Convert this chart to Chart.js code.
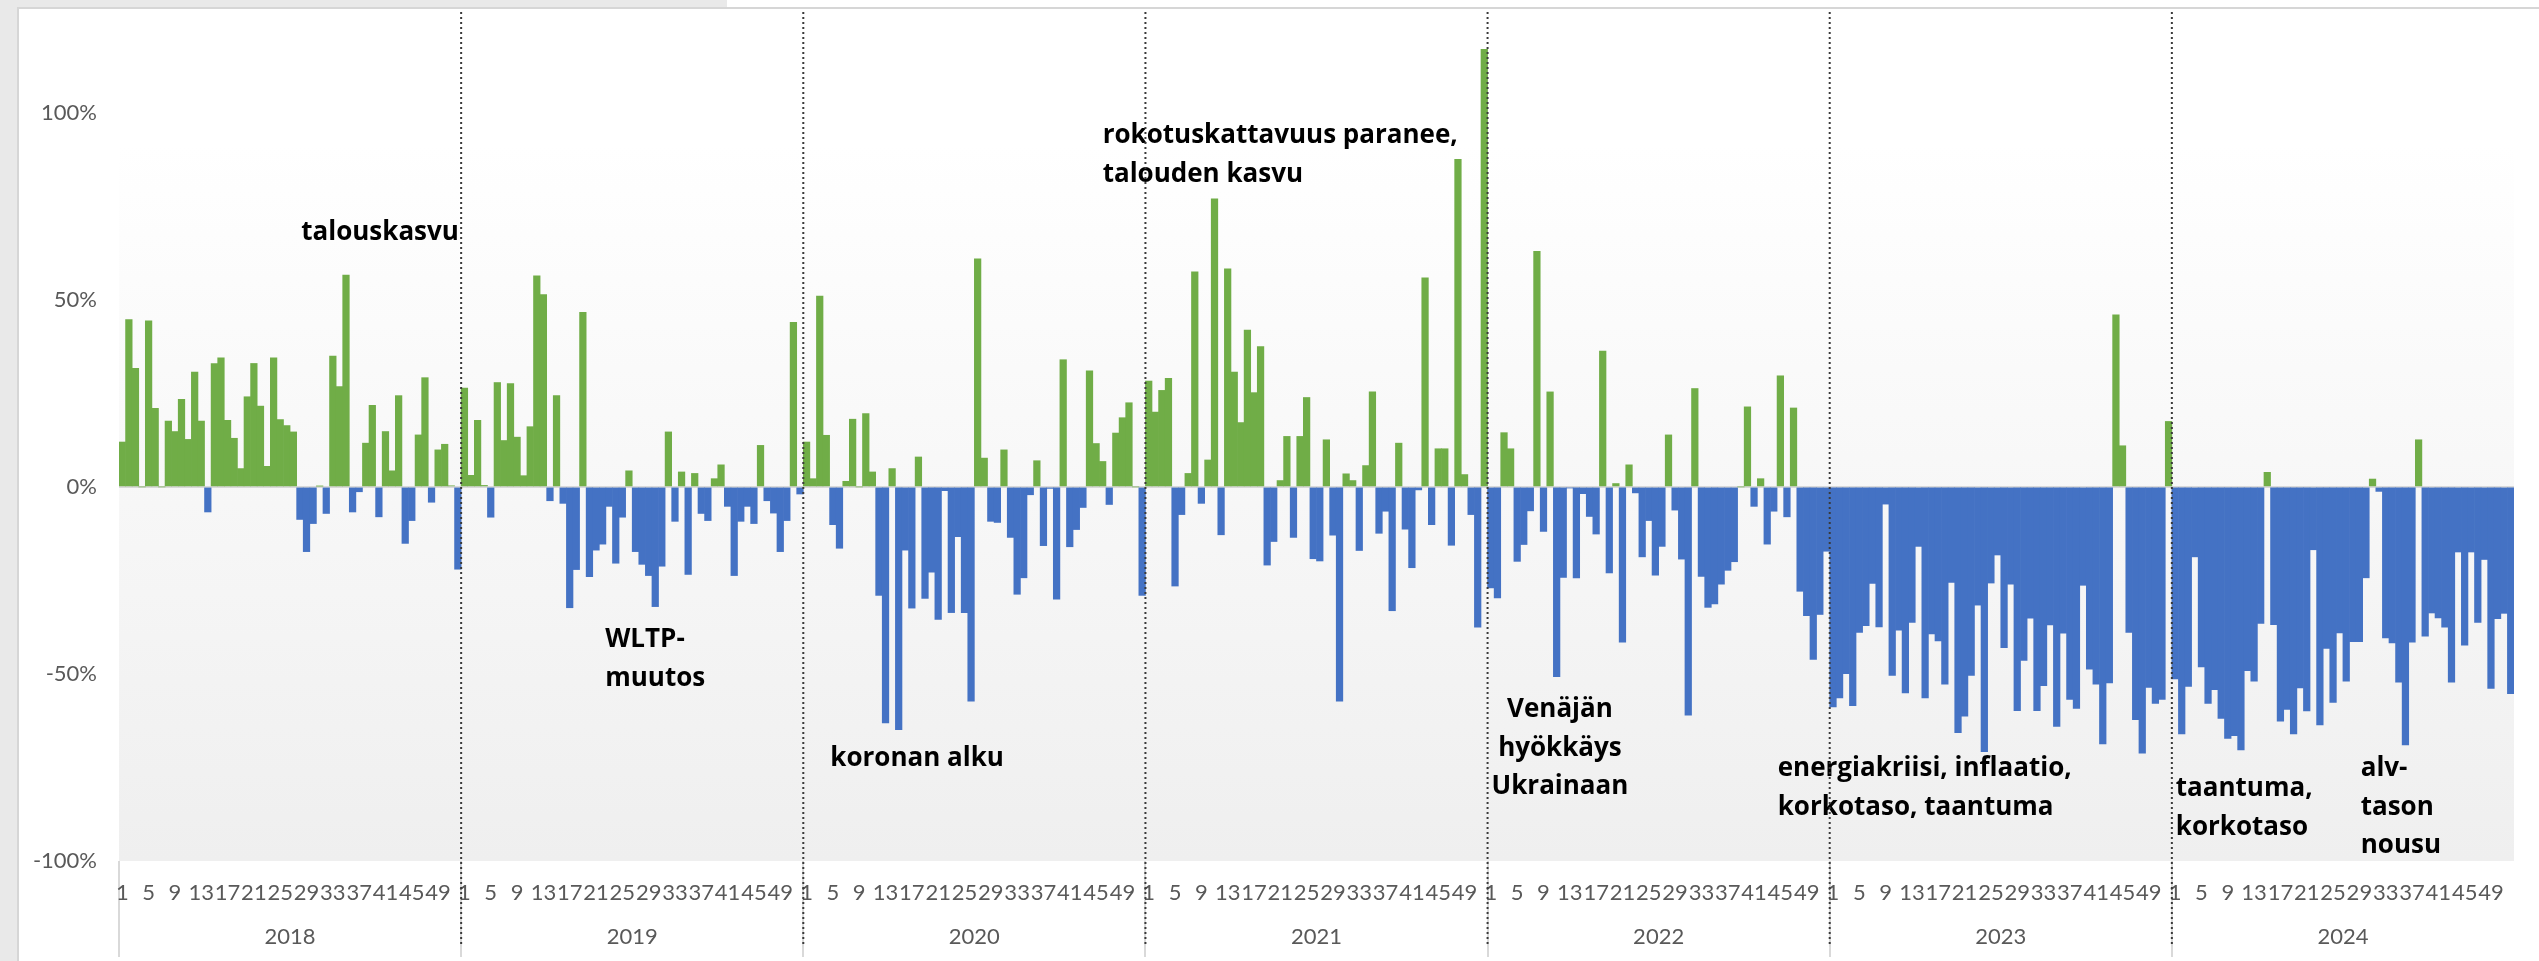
<!DOCTYPE html>
<html>
<head>
<meta charset="utf-8">
<script src="https://cdn.jsdelivr.net/npm/chart.js@4.4.1/dist/chart.umd.min.js"></script>
<style>
  html, body { margin: 0; padding: 0; background: #ffffff; width: 2539px; height: 961px; overflow: hidden; }
  #gl { position: absolute; left: 0; top: 0; width: 17px; height: 961px; background: #e9e9e9; }
  #gt { position: absolute; left: 0; top: 0; width: 727px; height: 7px; background: #e9e9e9; }
  #frame { position: absolute; left: 17px; top: 7px; width: 2522px; height: 954px; border-left: 2px solid #d6d6d6; border-top: 2px solid #d6d6d6; box-sizing: border-box; background: #fff; }
  #wrap { position: absolute; left: 0; top: 0; width: 2539px; height: 961px; }
</style>
</head>
<body>
<div id="gl"></div><div id="gt"></div><div id="frame"></div>
<div id="wrap"><canvas id="c" width="2539" height="961"></canvas></div>
<script>
// ---- data (weekly change, %) ----
const years = ['2018', '2019', '2020', '2021', '2022', '2023', '2024'];
const weeksPerYear = 52;
const tickWeeks = [1, 5, 9, 13, 17, 21, 25, 29, 33, 37, 41, 45, 49];

const y2018 = [12, 44.7, 31.7, 0, 44.4, 21, 0, 17.6, 14.8, 23.4, 12.7, 30.7, 17.6, -6.7, 33, 34.5, 17.8, 13, 4.9, 24.1, 33, 21.6, 5.5, 34.5, 18, 16.4, 14.7, -8.7, -17.3, -9.8, 0.2, -7.1, 35, 26.8, 56.6, -6.7, -1.3, 11.7, 21.8, -8, 14.8, 4.3, 24.4, -15.1, -9, 13.9, 29.2, -4.1, 9.9, 11.4, 0.3, -22];
const y2019 = [26.4, 3.1, 17.8, 0.4, -8.1, 27.9, 12.4, 27.6, 13.3, 3, 16.1, 56.4, 51.4, -3.7, 24.4, -4.4, -32.3, -22.1, 46.7, -24, -16.9, -15.3, -5.2, -20.4, -8.1, 4.3, -17.3, -20.7, -23.7, -32, -21.2, 14.7, -9.2, 4, -23.4, 3.6, -7.1, -9, 2.2, 5.9, -5.2, -23.7, -9.2, -5.2, -9.8, 11.1, -3.7, -7, -17.3, -9, 44, -1.9];
const y2020 = [12, 2.2, 51, 13.8, -10.1, -16.4, 1.5, 18.1, 0, 19.6, 4, -29, -63.1, 4.9, -64.9, -16.9, -32.4, 8, -29.8, -22.8, -35.4, -1, -33.6, -13.3, -33.6, -57.3, 61, 7.7, -9.2, -9.5, 9.9, -13.5, -28.7, -24.3, -2.1, 7, -15.7, -0.4, -30, 34, -16, -11.4, -5.5, 31, 11.6, 6.8, -4.7, 14.4, 18.5, 22.5, 0, -29];
const y2021 = [28.3, 20, 25.8, 29, -26.5, -7.4, 3.6, 57.5, -4.4, 7.2, 77, -12.8, 58.3, 30.7, 17.2, 41.9, 25.2, 37.5, -20.9, -14.6, 1.7, 13.5, -13.5, 13.5, 23.9, -19.2, -19.8, 12.6, -12.9, -57.3, 3.5, 1.7, -17, 5.7, 25.4, -12.4, -6.5, -33.1, 11.7, -11.3, -21.6, -0.8, 55.9, -10.1, 10.2, 10.2, -15.6, 87.6, 3.3, -7.4, -37.5, 117];
const y2022 = [-27, -29.7, 14.5, 10.2, -19.9, -15.4, -6.4, 63, -11.9, 25.4, -50.7, -24.2, -0.3, -24.3, -1.8, -7.9, -12.6, 36.3, -23, 0.9, -41.5, 5.9, -1.6, -18.7, -9, -23.6, -15.9, 13.9, -6.2, -19.3, -61, 26.3, -23.9, -32.2, -31.3, -26, -22.3, -20, 0, 21.4, -5.2, 2.2, -15.3, -6.5, 29.7, -8, 21.1, -27.9, -34.4, -46.1, -34.1, -17.2];
const y2023 = [-58.8, -56.4, -49.9, -58.5, -38.9, -37.1, -25.8, -37.4, -4.6, -50.4, -38.3, -55.1, -36.2, -15.9, -56.4, -39.3, -41.2, -52.7, -25.5, -65.7, -61.3, -50.4, -31.6, -70.8, -25.7, -18.2, -43, -26, -59.8, -46.4, -35.1, -59.8, -53.1, -36.9, -64, -39.1, -56.8, -59.2, -26.3, -48.7, -52.7, -68.7, -52.4, 46, 11, -38.9, -62.2, -71.2, -53.6, -57.9, -56.8, 17.5];
const y2024 = [-51.3, -66, -53.3, -18.7, -48.1, -57.9, -54.2, -61.9, -67.2, -66.5, -70.3, -49.1, -51.9, -36.5, 3.9, -36.8, -62.6, -59.5, -66, -53.7, -59.9, -16.8, -63.6, -43.2, -57.6, -39, -51.9, -41.4, -41.4, -24.3, 2.1, -1.2, -40.4, -41.7, -52.2, -69, -41.5, 12.6, -39.9, -33.7, -35, -37.5, -52.2, -17.4, -42.3, -17.4, -36.2, -19.4, -53.9, -35.2, -33.8, -55.3];

const yTicks = [-100, -50, 0, 50, 100];

// annotations: text lines, anchored at category index (x) and value (y of first line)
const notes = [
  { lines: ['talouskasvu'], x: 27.7, y: 67.9, align: 'left' },
  { lines: ['WLTP-', 'muutos'], x: 73.9, y: -40.9, align: 'left' },
  { lines: ['koronan alku'], x: 108.1, y: -72.7, align: 'left' },
  { lines: ['rokotuskattavuus paranee,', 'talouden kasvu'], x: 149.5, y: 93.8, align: 'left' },
  { lines: ['Venäjän', 'hyökkäys', 'Ukrainaan'], x: 219.0, y: -59.6, align: 'center' },
  { lines: ['energiakriisi, inflaatio,', 'korkotaso, taantuma'], x: 252.1, y: -75.4, align: 'left' },
  { lines: ['taantuma,', 'korkotaso'], x: 312.6, y: -80.7, align: 'left' },
  { lines: ['alv-', 'tason', 'nousu'], x: 340.7, y: -75.4, align: 'left' }
];

// ---- build ----
const series = [y2018, y2019, y2020, y2021, y2022, y2023, y2024];
const values = [].concat(...series);
const weekLabels = [];
series.forEach(s => s.forEach((v, i) => weekLabels.push(String(i + 1))));

const GREEN = '#70AD47', BLUE = '#4472C4';
const TICK_FONT = { family: 'Lato', size: 22 };
const TICK_COLOR = '#595959';

const bgPlugin = {
  id: 'bg',
  beforeDraw(chart) {
    const { ctx, chartArea: a } = chart;
    const g = ctx.createLinearGradient(0, a.top, 0, a.bottom);
    g.addColorStop(0, '#ffffff');
    g.addColorStop(0.13, '#ffffff');
    g.addColorStop(1, '#efefef');
    ctx.save();
    ctx.fillStyle = g;
    ctx.fillRect(a.left, a.top, a.right - a.left, a.bottom - a.top);
    ctx.restore();
  }
};

const notesPlugin = {
  id: 'notes',
  afterDatasetsDraw(chart) {
    const { ctx } = chart;
    const xs = chart.scales.x, ys = chart.scales.y;
    const step = xs.width / values.length;
    ctx.save();
    ctx.font = 'bold 26px "Open Sans"';
    ctx.fillStyle = '#000000';
    ctx.textBaseline = 'middle';
    notes.forEach(n => {
      const px = xs.left + n.x * step;
      const py = ys.getPixelForValue(n.y);
      ctx.textAlign = n.align;
      n.lines.forEach((t, i) => ctx.fillText(t, px, py + i * 38.5));
    });
    ctx.restore();
  }
};

const dividerPlugin = {
  id: 'dividers',
  afterDraw(chart) {
    const { ctx } = chart;
    const xs = chart.scales.x;
    ctx.save();
    ctx.strokeStyle = '#3a3a3a';
    ctx.lineWidth = 2;
    ctx.setLineDash([2, 3]);
    for (let k = 1; k < years.length; k++) {
      const i = k * weeksPerYear;
      const x = (xs.getPixelForValue(i - 1) + xs.getPixelForValue(i)) / 2;
      ctx.beginPath();
      ctx.moveTo(x, 12);
      ctx.lineTo(x, 945);
      ctx.stroke();
    }
    ctx.restore();
  }
};

new Chart(document.getElementById('c'), {
  type: 'bar',
  data: {
    labels: weekLabels,
    datasets: [{
      data: values,
      backgroundColor: ctx => (ctx.raw >= 0 ? GREEN : BLUE),
      borderWidth: 0,
      barPercentage: 1,
      categoryPercentage: 1
    }]
  },
  options: {
    responsive: false,
    animation: false,
    devicePixelRatio: 1,
    layout: { padding: { left: 17, top: 38, right: 25, bottom: 0 } },
    plugins: { legend: { display: false }, tooltip: { enabled: false }, title: { display: false } },
    scales: {
      y: {
        min: -100, max: 120,
        border: { display: false },
        grid: {
          drawTicks: false,
          color: ctx => (ctx.tick && ctx.tick.value === 0 ? '#d9d9d9' : 'rgba(0,0,0,0)'),
          lineWidth: 2
        },
        ticks: {
          stepSize: 50,
          includeBounds: false,
          padding: 22,
          font: TICK_FONT,
          color: TICK_COLOR,
          callback: v => (yTicks.includes(v) ? v + '%' : '')
        },
        afterFit: s => { s.width = 102; }
      },
      x: {
        type: 'category',
        position: 'bottom',
        offset: true,
        border: { display: false },
        grid: {
          offset: true,
          drawOnChartArea: false,
          drawTicks: true,
          tickLength: 96,
          lineWidth: 2,
          color: ctx => (ctx.index % weeksPerYear === 0 ? '#d9d9d9' : 'rgba(0,0,0,0)')
        },
        ticks: {
          autoSkip: false,
          maxRotation: 0,
          minRotation: 0,
          padding: -77,
          font: TICK_FONT,
          color: TICK_COLOR,
          callback: function (val) {
            const w = Number(this.getLabelForValue(val));
            return tickWeeks.includes(w) ? String(w) : '';
          }
        },
        afterFit: s => { s.height = 50; }
      },
      x2: {
        type: 'category',
        position: 'bottom',
        labels: years,
        offset: true,
        border: { display: false },
        grid: { display: false, drawTicks: false },
        ticks: { autoSkip: false, maxRotation: 0, padding: 13, font: TICK_FONT, color: TICK_COLOR },
        afterFit: s => { s.height = 50; }
      }
    }
  },
  plugins: [bgPlugin, notesPlugin, dividerPlugin]
});
</script>
</body>
</html>
